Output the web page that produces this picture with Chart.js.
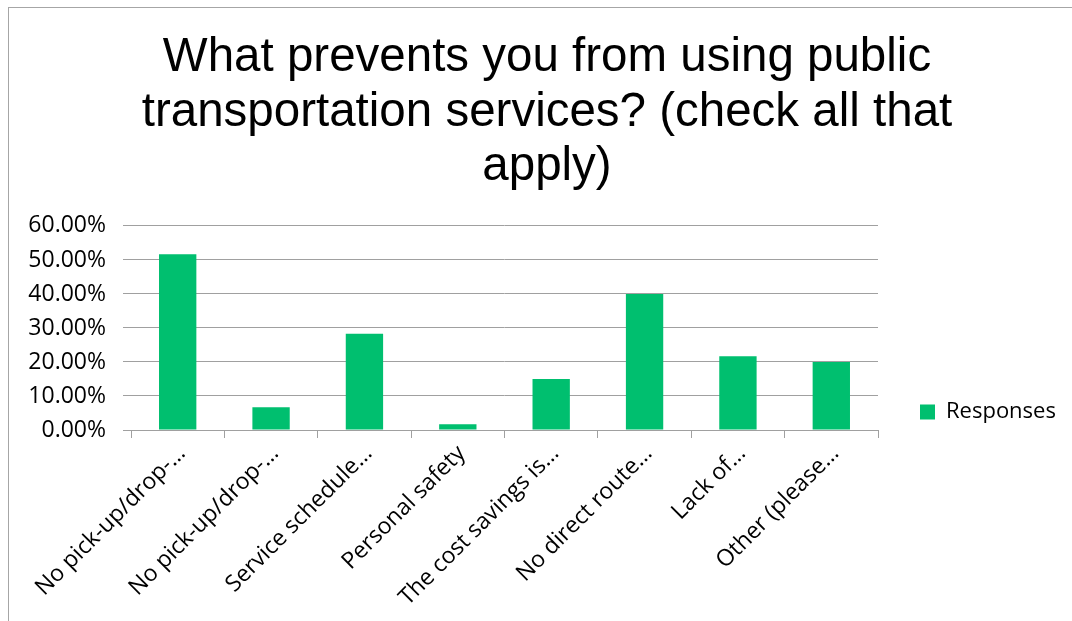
<!DOCTYPE html>
<html>
<head>
<meta charset="utf-8">
<script src="https://cdn.jsdelivr.net/npm/chart.js@4/dist/chart.umd.min.js"></script>
<style>
  html, body { margin: 0; padding: 0; background: #ffffff; overflow: hidden; }
  #wrap { position: relative; width: 1072px; height: 621px; }
  #frame {
    position: absolute; left: 8px; top: 7px; width: 2000px; height: 2000px;
    border-left: 1.5px solid #a6a6a6; border-top: 1.5px solid #a6a6a6;
  }
  #c { position: absolute; left: 0; top: 0; }
</style>
</head>
<body>
<div id="wrap">
  <div id="frame"></div>
  <canvas id="c" width="1072" height="621"></canvas>
</div>
<script>
// Survey question and answer categories
const titleLines = [
  'What prevents you from using public',
  'transportation services? (check all that',
  'apply)'
];
const categories = [
  'No pick-up/drop-…',
  'No pick-up/drop-…',
  'Service schedule…',
  'Personal safety',
  'The cost savings is…',
  'No direct route…',
  'Lack of…',
  'Other (please…'
];
// Share of respondents choosing each answer, in percent
const responses = [51.67, 6.67, 28.33, 1.67, 15.00, 40.00, 21.67, 20.00];
const seriesName = 'Responses';
// Value axis range and step, in percent
const axisMin = 0;
const axisMax = 60;
const axisStep = 10;

const GREEN = '#00bf6f';
const GRID = '#a0a0a0';
const FAMILY = '"Open Sans", "DejaVu Sans", sans-serif';
const TICK_FONT = { family: FAMILY, size: 23 };
const LEGEND_FONT = { family: FAMILY, size: 22 };

// Layout geometry of the plot frame
const W = 1072, H = 621;
const plotLeft = 131, plotRight = 878, plotBottom = 430;
const titleCenter = 547;
const legendPad = 42, legendBox = 15, legendItemTop = 401;

const m = document.createElement('canvas').getContext('2d');
m.font = LEGEND_FONT.size + 'px ' + FAMILY;
const legendItemW = legendBox + LEGEND_FONT.size / 2 + m.measureText(seriesName).width;
const legendItemH = Math.max(legendBox, LEGEND_FONT.size);
const legendW = legendPad + legendItemW + 10;
const padRight = W - plotRight - legendW;
const padLeft = 2 * titleCenter - (W - padRight);
const padBottom = 0;

// Slides the right-hand legend column so its single entry sits beside the lower plot
const legendRow = {
  id: 'legendRow',
  afterLayout(chart) {
    const lg = chart.legend;
    if (!lg) return;
    const d = legendItemTop - (lg.top + lg.bottom - legendItemH) / 2;
    lg.top += d;
    lg.bottom += d;
  }
};

new Chart(document.getElementById('c'), {
  type: 'bar',
  data: {
    labels: categories,
    datasets: [{
      label: seriesName,
      data: responses,
      backgroundColor: GREEN,
      borderWidth: 0,
      barPercentage: 0.4,
      categoryPercentage: 1.0
    }]
  },
  plugins: [legendRow],
  options: {
    responsive: false,
    animation: false,
    devicePixelRatio: 1,
    layout: { padding: { left: padLeft, right: padRight, top: 0, bottom: padBottom } },
    plugins: {
      tooltip: { enabled: false },
      title: {
        display: true,
        text: titleLines,
        color: '#000000',
        font: { family: '"Liberation Sans", Arial, sans-serif', size: 47.5, lineHeight: 1.147, weight: 'normal' },
        padding: { top: 31, bottom: 31.5 }
      },
      legend: {
        display: true,
        position: 'right',
        align: 'center',
        labels: {
          boxWidth: legendBox,
          boxHeight: legendBox,
          padding: legendPad,
          color: '#000000',
          font: LEGEND_FONT
        }
      }
    },
    scales: {
      x: {
        offset: true,
        grid: { display: true, drawOnChartArea: false, drawTicks: true, tickLength: 8, color: GRID, lineWidth: 1 },
        border: { display: true, color: GRID, width: 1 },
        ticks: {
          autoSkip: false,
          maxRotation: 45,
          minRotation: 45,
          padding: 2,
          labelOffset: 4,
          color: '#000000',
          font: TICK_FONT
        },
        afterFit(scale) { scale.height = H - padBottom - plotBottom; }
      },
      y: {
        min: axisMin,
        max: axisMax,
        grid: { color: GRID, lineWidth: 1, drawTicks: true, tickLength: 8 },
        border: { display: false },
        ticks: {
          stepSize: axisStep,
          padding: 17,
          color: '#000000',
          font: TICK_FONT,
          callback: (v) => Number(v).toFixed(2) + '%'
        },
        afterFit(scale) { scale.width = plotLeft - padLeft; }
      }
    }
  }
});
</script>
</body>
</html>
